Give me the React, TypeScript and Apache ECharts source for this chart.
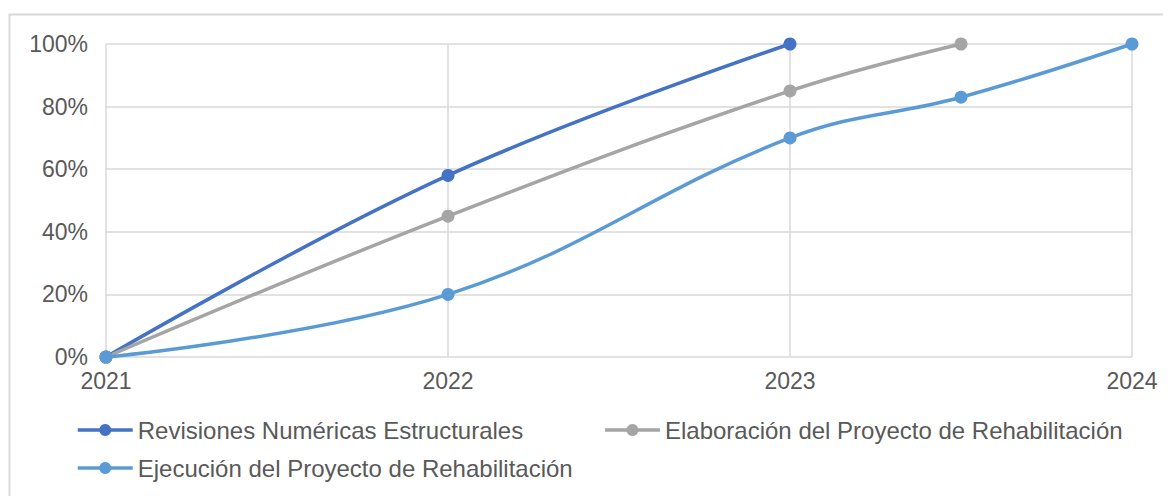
import React, { useEffect, useRef } from "react";
import * as echarts from "echarts";

const seriesNames = [
  "Revisiones Numéricas Estructurales",
  "Elaboración del Proyecto de Rehabilitación",
  "Ejecución del Proyecto de Rehabilitación",
];
const revisiones: [number, number][] = [
  [2021, 0],
  [2022, 58],
  [2023, 100],
];
const elaboracion: [number, number][] = [
  [2021, 0],
  [2022, 45],
  [2023, 85],
  [2023.5, 100],
];
const ejecucion: [number, number][] = [
  [2021, 0],
  [2022, 20],
  [2023, 70],
  [2023.5, 83],
  [2024, 100],
];
const colors = ["#4472C4", "#A5A5A5", "#5B9BD5"];

export default function App() {
  const ref = useRef<HTMLDivElement>(null);
  useEffect(() => {
    if (!ref.current) return;
    const chart = echarts.init(ref.current, undefined, { renderer: "svg" });
    const font = "'Liberation Sans', Arial, Helvetica, sans-serif";
    const mk = (name: string, data: [number, number][], color: string) => ({
      name,
      type: "line",
      data,
      smooth: 0.4,
      symbol: "circle",
      symbolSize: 13,
      lineStyle: { color, width: 3.5 },
      itemStyle: { color },
      z: 3,
    });
    const legendCommon = {
      itemWidth: 55,
      itemHeight: 15,
      itemGap: 80,
      lineStyle: { width: 3.5 },
      textStyle: { color: "#595959", fontSize: 24, fontFamily: font },
    };
    chart.setOption({
      animation: false,
      textStyle: { fontFamily: font },
      graphic: [
        {
          type: "rect",
          shape: { x: 1.5, y: 6.5, width: 1200, height: 600 },
          style: { fill: "none", stroke: "#d9d9d9", lineWidth: 2 },
          silent: true,
        },
      ],
      grid: { left: 98, right: 39, top: 36, bottom: 139, containLabel: false },
      xAxis: {
        type: "value",
        min: 2021,
        max: 2024,
        interval: 1,
        axisLine: { show: false },
        axisTick: { show: false },
        axisLabel: {
          color: "#595959",
          fontSize: 23,
          fontFamily: font,
          margin: 12,
          formatter: (v: number) => String(v),
        },
        splitLine: {
          show: true,
          showMinLine: true,
          showMaxLine: true,
          lineStyle: { color: "#d9d9d9", width: 1.5 },
        },
      },
      yAxis: {
        type: "value",
        min: 0,
        max: 100,
        interval: 20,
        axisLine: { show: false },
        axisTick: { show: false },
        axisLabel: {
          color: "#595959",
          fontSize: 23,
          fontFamily: font,
          margin: 18,
          formatter: (v: number) => v + "%",
        },
        splitLine: { show: true, lineStyle: { color: "#d9d9d9", width: 1.5 } },
      },
      legend: [
        {
          ...legendCommon,
          data: [seriesNames[0], seriesNames[1]],
          left: 63,
          top: 405,
        },
        {
          ...legendCommon,
          data: [seriesNames[2]],
          left: 63,
          top: 443,
        },
      ],
      series: [
        mk(seriesNames[0], revisiones, colors[0]),
        mk(seriesNames[1], elaboracion, colors[1]),
        mk(seriesNames[2], ejecucion, colors[2]),
      ],
    });
    return () => chart.dispose();
  }, []);
  return <div ref={ref} style={{ width: 1163, height: 488 }} />;
}
